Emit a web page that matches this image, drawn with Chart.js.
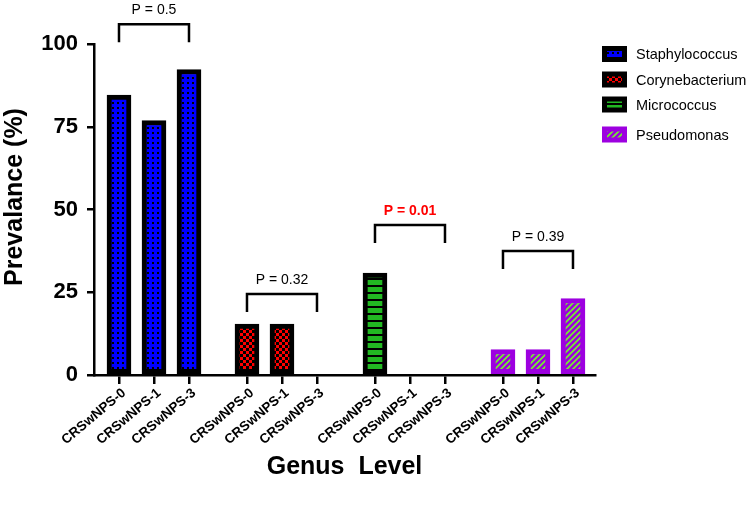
<!DOCTYPE html>
<html>
<head>
<meta charset="utf-8">
<script src="https://cdn.jsdelivr.net/npm/chart.js@4.4.1/dist/chart.umd.min.js"></script>
<style>
  body { margin: 0; background: #fff; }
  #wrap { width: 750px; height: 510px; }
</style>
</head>
<body>
<div id="wrap"><canvas id="chart"></canvas></div>
<script>
// data
const categories = ['CRSwNPS-0', 'CRSwNPS-1', 'CRSwNPS-3'];
const genera = ['Staphylococcus', 'Corynebacterium', 'Micrococcus', 'Pseudomonas'];
const staphylococcus = [84.6, 76.9, 92.3];
const corynebacterium = [15.4, 15.4, 0];
const micrococcus = [30.8, 0, 0];
const pseudomonas = [7.7, 7.7, 23.1];
const pValues = ['P = 0.5', 'P = 0.32', 'P = 0.01', 'P = 0.39'];
const pSignificant = [false, false, true, false];
const bracketLevels = [106, 24.5, 45.3, 37.5];
const yTicks = [0, 25, 50, 75, 100];

const FONT = 'Arial, "Liberation Sans", Helvetica, sans-serif';
const groupGap = 0.657;
const xPos = (g, i) => g * (categories.length + groupGap) + i;

// fill patterns
function makePattern(size, draw) {
  const c = document.createElement('canvas');
  c.width = size; c.height = size;
  draw(c.getContext('2d'), size);
  return c.getContext('2d').createPattern(c, 'repeat');
}
const ctx = document.getElementById('chart').getContext('2d');
const dots = makePattern(5, (g, s) => {
  g.fillStyle = '#0000ff'; g.fillRect(0, 0, s, s);
  g.fillStyle = '#000'; g.fillRect(2, 2, 2, 2);
});
const checks = makePattern(6, (g, s) => {
  g.fillStyle = '#ff0000'; g.fillRect(0, 0, s, s);
  g.fillStyle = '#000'; g.fillRect(0, 0, 3, 3); g.fillRect(3, 3, 3, 3);
});
const stripes = makePattern(7, (g, s) => {
  g.fillStyle = '#000'; g.fillRect(0, 0, s, s);
  g.fillStyle = '#22b822'; g.fillRect(0, 0, s, 5);
});
const hatch = makePattern(6, (g, s) => {
  g.fillStyle = '#9d00e0'; g.fillRect(0, 0, s, s);
  g.strokeStyle = '#74f22c'; g.lineWidth = 1.7;
  g.beginPath();
  g.moveTo(-1, s + 1); g.lineTo(s + 1, -1);
  g.moveTo(-1, 1); g.lineTo(1, -1);
  g.moveTo(s - 1, s + 1); g.lineTo(s + 1, s - 1);
  g.stroke();
});

const series = [staphylococcus, corynebacterium, micrococcus, pseudomonas];
const fills = [dots, checks, stripes, hatch];
const borders = ['#000', '#000', '#000', '#9d00e0'];

const datasets = genera.map((name, g) => ({
  label: name,
  data: series[g].map((v, i) => ({ x: xPos(g, i), y: v })),
  backgroundColor: fills[g],
  borderColor: borders[g],
  borderWidth: 5,
  borderSkipped: false,
  barThickness: 24,
  grouped: false
}));

const tickPositions = [];
genera.forEach((_, g) => categories.forEach((_, i) => tickPositions.push(xPos(g, i))));

// legend, y title and p-value brackets
const annotations = {
  id: 'annotations',
  afterDraw(chart) {
    const c = chart.ctx;
    const xs = chart.scales.x, ys = chart.scales.y;
    c.save();
    c.strokeStyle = '#000';
    c.lineWidth = 2.5;
    c.lineCap = 'butt';
    pValues.forEach((txt, g) => {
      const x1 = xs.getPixelForValue(xPos(g, 0));
      const x2 = xs.getPixelForValue(xPos(g, categories.length - 1));
      const top = ys.getPixelForValue(bracketLevels[g]);
      c.beginPath();
      c.moveTo(x1, top + 18);
      c.lineTo(x1, top);
      c.lineTo(x2, top);
      c.lineTo(x2, top + 18);
      c.stroke();
      c.font = (pSignificant[g] ? 'bold ' : '') + '14px ' + FONT;
      c.fillStyle = pSignificant[g] ? '#ff0000' : '#000';
      c.textAlign = 'center';
      c.textBaseline = 'middle';
      c.fillText(txt, (x1 + x2) / 2, top - 14);
    });

    const rows = [54, 79.5, 104.5, 134.5];
    genera.forEach((name, g) => {
      const bx = 602, by = rows[g] - 8, bw = 25, bh = 16;
      c.fillStyle = borders[g];
      c.fillRect(bx, by, bw, bh);
      c.fillStyle = fills[g];
      c.fillRect(bx + 5, by + 5, bw - 10, bh - 10);
      c.fillStyle = '#000';
      c.font = '14.5px ' + FONT;
      c.textAlign = 'left';
      c.textBaseline = 'middle';
      c.fillText(name, 636, rows[g] + 1);
    });

    c.translate(15, 197);
    c.rotate(-Math.PI / 2);
    c.font = 'bold 25px ' + FONT;
    c.fillStyle = '#000';
    c.textAlign = 'center';
    c.textBaseline = 'middle';
    c.fillText('Prevalance (%)', 0, 0);
    c.restore();
  }
};

new Chart(ctx, {
  type: 'bar',
  data: { datasets },
  plugins: [annotations],
  options: {
    responsive: true,
    maintainAspectRatio: false,
    animation: false,
    layout: { padding: { top: 44, right: 155, left: 0, bottom: 0 } },
    plugins: {
      legend: { display: false },
      tooltip: { enabled: false }
    },
    scales: {
      x: {
        type: 'linear',
        offset: false,
        min: -0.714,
        max: 13.6,
        afterBuildTicks: (axis) => { axis.ticks = tickPositions.map(v => ({ value: v })); },
        afterFit: (axis) => { axis.height = 135; },
        grid: {
          display: true,
          offset: false,
          drawOnChartArea: false,
          drawTicks: true,
          tickLength: 9,
          color: '#000',
          lineWidth: 2.5
        },
        border: { display: true, color: '#000', width: 2.5 },
        ticks: {
          autoSkip: false,
          minRotation: 40,
          maxRotation: 40,
          padding: 1,
          labelOffset: 5,
          color: '#000',
          font: { family: FONT, size: 13.5, weight: 'bold' },
          callback: (value, index) => categories[index % categories.length]
        },
        title: {
          display: true,
          text: 'Genus  Level',
          color: '#000',
          font: { family: FONT, size: 25, weight: 'bold' },
          padding: { top: 0, bottom: 28 }
        }
      },
      y: {
        min: 0,
        max: 100,
        afterBuildTicks: (axis) => { axis.ticks = yTicks.map(v => ({ value: v })); },
        afterFit: (axis) => { axis.width = 94; },
        grid: {
          display: true,
          drawOnChartArea: false,
          drawTicks: true,
          tickLength: 7,
          color: '#000',
          lineWidth: 2.5
        },
        border: { display: true, color: '#000', width: 2.5 },
        ticks: {
          padding: 9,
          color: '#000',
          font: { family: FONT, size: 22, weight: 'bold' }
        }
      }
    }
  }
});
</script>
</body>
</html>
